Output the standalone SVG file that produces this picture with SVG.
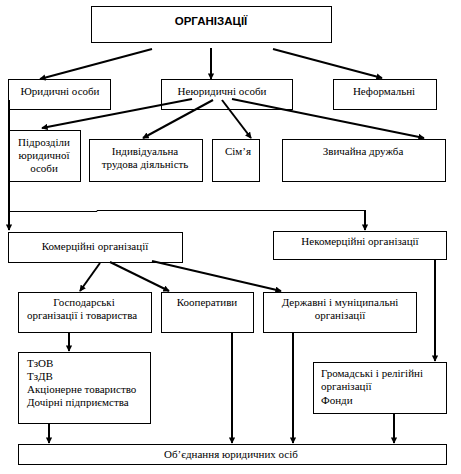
<svg xmlns="http://www.w3.org/2000/svg" width="461" height="474" viewBox="0 0 461 474">
<style>
.box{fill:#fff;stroke:#000;stroke-width:1}
.t{font-family:"Liberation Serif","Times New Roman",serif;font-size:11px;fill:#000}
.c{text-anchor:middle}
.title{font-family:"Liberation Sans",Arial,sans-serif;font-size:11.5px;font-weight:bold;text-anchor:middle;fill:#000}
.a{stroke:#000;stroke-width:2;fill:none;marker-end:url(#ah)}
.thin{stroke:#000;stroke-width:1;fill:none}
</style>
<defs>
<marker id="ah" markerWidth="3.2" markerHeight="3.2" refX="2.8" refY="1.6" orient="auto" markerUnits="strokeWidth">
<path d="M0,0 L3.2,1.6 L0,3.2 Z" fill="#000"/>
</marker>
</defs>
<rect width="461" height="474" fill="#fff"/>
<g id="nodes">
<g id="n-org"><rect class="box" x="91.5" y="6.5" width="240" height="36"/><text class="title" x="211" y="25">ОРГАНІЗАЦІЇ</text></g>
<g id="n-yur"><rect class="box" x="8.5" y="79.5" width="102" height="30"/><text class="t c" font-family="Liberation Serif, serif" x="60" y="95">Юридичні особи</text></g>
<g id="n-neyur"><rect class="box" x="161.5" y="79.5" width="131" height="30"/><text class="t c" x="222" y="95">Неюридичні особи</text></g>
<g id="n-neform"><rect class="box" x="333.5" y="79.5" width="103" height="30"/><text class="t c" x="384" y="95">Неформальні</text></g>
<g id="n-pidr"><rect class="box" x="9.5" y="130.5" width="71" height="51"/><text class="t c" x="44" y="146">Підрозділи</text><text class="t c" x="44" y="159">юридичної</text><text class="t c" x="44" y="172">особи</text></g>
<g id="n-ind"><rect class="box" x="89.5" y="139.5" width="113" height="42"/><text class="t c" x="145" y="155">Індивідуальна</text><text class="t c" x="145" y="168">трудова діяльність</text></g>
<g id="n-sim"><rect class="box" x="212.5" y="139.5" width="47" height="42"/><text class="t c" x="238" y="155">Сім’я</text></g>
<g id="n-druzh"><rect class="box" x="282.5" y="139.5" width="163" height="42"/><text class="t c" x="363" y="155">Звичайна дружба</text></g>
<g id="n-kom"><rect class="box" x="8.5" y="232.5" width="174" height="30"/><text class="t c" x="95" y="250">Комерційні організації</text></g>
<g id="n-nekom"><rect class="box" x="273.5" y="231.5" width="173" height="28"/><text class="t c" x="360" y="245">Некомерційні організації</text></g>
<g id="n-gosp"><rect class="box" x="18.5" y="292.5" width="133" height="40"/><text class="t c" x="84" y="306">Господарські</text><text class="t c" x="82" y="319">організації і товариства</text></g>
<g id="n-koop"><rect class="box" x="161.5" y="292.5" width="92" height="40"/><text class="t c" x="207" y="306">Кооперативи</text></g>
<g id="n-derzh"><rect class="box" x="263.5" y="292.5" width="153" height="40"/><text class="t c" x="340" y="306">Державні і муніципальні</text><text class="t c" x="340" y="319">організації</text></g>
<g id="n-tzov"><rect class="box" x="18.5" y="352.5" width="132" height="71"/><text class="t" x="27" y="367">ТзОВ</text><text class="t" x="27" y="380">ТзДВ</text><text class="t" x="27" y="393">Акціонерне товариство</text><text class="t" x="27" y="406">Дочірні підприємства</text></g>
<g id="n-grom"><rect class="box" x="313.5" y="362.5" width="133" height="51"/><text class="t" x="321" y="377">Громадські і релігійні</text><text class="t" x="321" y="390">організації</text><text class="t" x="321" y="404">Фонди</text></g>
<g id="n-obyed"><rect class="box" x="18.5" y="444.5" width="428" height="20"/><text class="t c" x="231" y="458">Об’єднання юридичних осіб</text></g>
</g>
<g id="connectors">
<line class="a" x1="152" y1="49" x2="40" y2="79"/>
<line class="a" x1="211" y1="48" x2="211" y2="79"/>
<line class="a" x1="273" y1="49" x2="382" y2="78"/>
<line class="a" x1="192" y1="99" x2="42" y2="128"/>
<line class="a" x1="213" y1="100" x2="143" y2="138"/>
<line class="a" x1="222" y1="100" x2="251" y2="138"/>
<line class="a" x1="232" y1="99" x2="424" y2="138"/>
<line class="a" x1="9" y1="100" x2="9" y2="230"/>
<polyline class="thin" points="9,211.5 97,211.5 97,210.5 365,210.5"/>
<line class="a" x1="365" y1="210" x2="365" y2="230"/>
<line class="a" x1="100" y1="263" x2="80" y2="291"/>
<line class="a" x1="110" y1="262" x2="169" y2="291"/>
<line class="a" x1="152" y1="261" x2="281" y2="291"/>
<line class="a" x1="69" y1="333" x2="69" y2="351"/>
<line class="a" x1="435" y1="260" x2="435" y2="361"/>
<line class="a" x1="49" y1="424" x2="49" y2="443"/>
<line class="a" x1="232" y1="333" x2="232" y2="443"/>
<line class="a" x1="293" y1="333" x2="293" y2="443"/>
<line class="a" x1="394" y1="414" x2="394" y2="443"/>
</g>
</svg>
